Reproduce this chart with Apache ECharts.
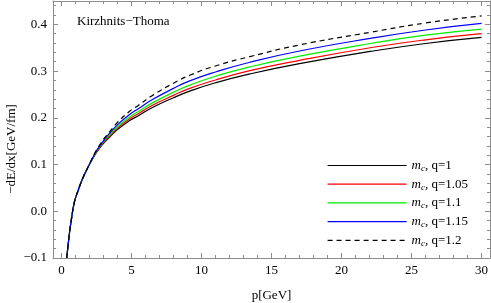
<!DOCTYPE html>
<html><head><meta charset="utf-8">
<script src="https://cdn.jsdelivr.net/npm/echarts@6/dist/echarts.min.js"></script>
<style>html,body{margin:0;padding:0;background:#fff}#c{width:491px;height:303px}</style>
</head><body><div id="c"></div>
<script>
const pValues = [0.38,0.45,0.57,0.7,0.93,1.2,1.5,1.88,2.36,2.72,3.08,3.44,4,4.87,5.46,6.5,8,9.16,11,13.46,17,22.05,26,30];
const q100  = [-0.1,-0.08,-0.048,-0.02,0.02,0.045,0.069,0.093,0.119,0.135,0.148,0.159,0.175,0.194,0.204,0.222,0.243,0.257,0.275,0.294,0.316,0.342,0.359,0.372];
const q105  = [-0.1,-0.08,-0.048,-0.02,0.02,0.045,0.069,0.093,0.120,0.136,0.150,0.161,0.178,0.198,0.208,0.227,0.248,0.263,0.281,0.301,0.323,0.350,0.367,0.380];
const q110  = [-0.1,-0.08,-0.048,-0.02,0.02,0.045,0.069,0.093,0.121,0.138,0.152,0.164,0.181,0.202,0.213,0.232,0.255,0.270,0.289,0.309,0.332,0.359,0.377,0.390];
const q115  = [-0.1,-0.08,-0.048,-0.02,0.02,0.045,0.069,0.093,0.122,0.139,0.154,0.167,0.185,0.207,0.219,0.239,0.263,0.279,0.298,0.319,0.343,0.370,0.388,0.402];
const q120  = [-0.1,-0.08,-0.048,-0.02,0.02,0.045,0.069,0.093,0.123,0.141,0.157,0.170,0.190,0.214,0.226,0.248,0.274,0.291,0.311,0.331,0.356,0.383,0.403,0.418];
const seriesNames = ['q=1','q=1.05','q=1.1','q=1.15','q=1.2'];
const xMajorTicks = [0,5,10,15,20,25,30];
const xMinorTicks = [1,2,3,4,6,7,8,9,11,12,13,14,16,17,18,19,21,22,23,24,26,27,28,29];
const yMajorTicks = [-0.1,0,0.1,0.2,0.3,0.4];
const yMinorTicks = [-0.08,-0.06,-0.04,-0.02,0.02,0.04,0.06,0.08,0.12,0.14,0.16,0.18,0.22,0.24,0.26,0.28,0.32,0.34,0.36,0.38,0.42,0.44];

const chart = echarts.init(document.getElementById('c'), null, {renderer:'canvas'});
const frameColor = '#8c8c8c';
const font = 'Liberation Serif';
function xAx(pos, ticks, len, showLine, showLabel, extra){
  return Object.assign({type:'value', min:-0.6, max:30.6, position:pos, gridIndex:0,
    axisLine:{show:showLine, onZero:false, lineStyle:{color:frameColor,width:1}},
    axisTick:{show:true, inside:true, length:len, customValues:ticks, lineStyle:{color:frameColor}},
    axisLabel:{show:showLabel, customValues:ticks, margin:6, color:'#000', fontFamily:font, fontSize:13},
    splitLine:{show:false}}, extra||{});
}
function yAx(pos, ticks, len, showLine, showLabel){
  return {type:'value', min:-0.1, max:0.45, position:pos, gridIndex:0,
    axisLine:{show:showLine, onZero:false, lineStyle:{color:frameColor,width:1}},
    axisTick:{show:true, inside:true, length:len, customValues:ticks, lineStyle:{color:frameColor}},
    axisLabel:{show:showLabel, customValues:ticks, margin:6, color:'#000', fontFamily:font, fontSize:13,
      formatter:v=>v.toFixed(1).replace('-','\u2212')},
    splitLine:{show:false}};
}
const colors = ['#000000','#ff0000','#00ee00','#0000ff','#000000'];
const data = [q100,q105,q110,q115,q120];
const series = data.map((arr,i)=>({
  name: seriesNames[i], type:'line', xAxisIndex:0, yAxisIndex:0,
  data: pValues.map((p,j)=>[p, arr[j]]),
  smooth:true, showSymbol:false, symbol:'none', clip:true,
  lineStyle:{color:colors[i], width:1.2, type: i===4 ? [5,4] : 'solid'},
  itemStyle:{color:colors[i]}, z: 2+i
}));
chart.setOption({
  animation:false,
  grid:{left:53, right:1, top:1, bottom:45, containLabel:false, outerBoundsMode:'none'},
  xAxis:[
    xAx('bottom', xMajorTicks, 5, true, true, {name:'p[GeV]', nameLocation:'middle', nameGap:31, nameTextStyle:{color:'#000', fontFamily:font, fontSize:13}}),
    xAx('bottom', xMinorTicks, 3, false, false),
    xAx('top', xMajorTicks, 5, true, false),
    xAx('top', xMinorTicks, 3, false, false)
  ],
  yAxis:[
    yAx('left', yMajorTicks, 5, true, true),
    yAx('left', yMinorTicks, 3, false, false),
    yAx('right', yMajorTicks, 5, true, false),
    yAx('right', yMinorTicks, 3, false, false)
  ],
  legend:{
    show:true, orient:'vertical', left:327, top:159, padding:0, itemWidth:79, itemHeight:12, itemGap:4.7,
    data: seriesNames,
    itemStyle:{opacity:0},
    lineStyle:{width:1.2},
    formatter: n => '{m|m}{s|c}{t|, ' + n + '}',
    textStyle:{rich:{
      m:{fontFamily:font, fontStyle:'italic', fontSize:13, color:'#000'},
      s:{fontFamily:font, fontStyle:'italic', fontSize:9, color:'#000', padding:[6,0,0,0]},
      t:{fontFamily:font, fontSize:13, color:'#000'}
    }}
  },
  graphic:[
    {type:'text', left:77, top:15, style:{text:'Kirzhnits\u2212Thoma', font:'13px "Liberation Serif"', fill:'#000'}},
    {type:'text', x:12, y:149, rotation:Math.PI/2, style:{text:'\u2212dE/dx[GeV/fm]', font:'13px "Liberation Serif"', fill:'#000', align:'center', verticalAlign:'middle'}}
  ],
  series: series
});
</script></body></html>
